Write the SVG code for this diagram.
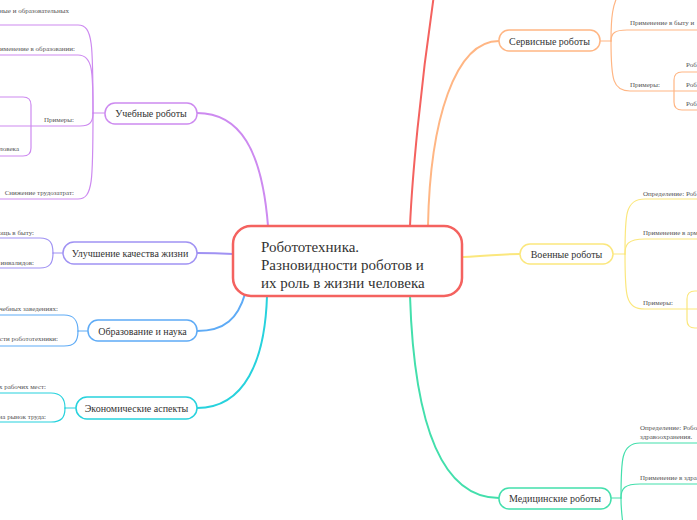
<svg xmlns="http://www.w3.org/2000/svg" width="697" height="520" viewBox="0 0 697 520">
<style>
.c{fill:none;stroke-linecap:round;stroke-linejoin:round}
.m{stroke-width:2}
.s{stroke-width:1.2}
.n{fill:#fff;stroke-width:1.5}
.nt{font-size:10px;fill:#333;text-anchor:middle}
.t{font-size:7px;fill:#555}
.e{text-anchor:end}
.pu{stroke:#cd8af0}.vi{stroke:#a092f3}.bl{stroke:#5eabf6}.cy{stroke:#27d2dd}
.rd{stroke:#f4625f}.or{stroke:#ffb684}.ye{stroke:#fbe77d}.gr{stroke:#43dfac}
</style>
<rect width="697" height="520" fill="#fff"/>
<g id="connectors">
<path class="c m pu" d="M268,226 C262,150 240,113 197,113"/>
<path class="c m vi" d="M233,254 C215,253 210,253 197,253"/>
<path class="c m bl" d="M245,294 C238,318 225,331 197,331"/>
<path class="c m cy" d="M267,296 C265,360 245,408 197,408"/>
<path class="c m rd" d="M410,226 C412,180 420,90 434,-5"/>
<path class="c m or" d="M428,226 C430,120 455,41 499,41"/>
<path class="c m ye" d="M463,257 C490,256 500,254 520,254"/>
<path class="c m gr" d="M410,296 C414,420 440,498 499,498"/>
<path class="c s pu" d="M105,113 L93,113"/>
<path class="c s pu" d="M93,113 C93,45 93,25 78,25 L-2,25"/>
<path class="c s pu" d="M93,113 C93,72 93,55 78,55 L-2,55"/>
<path class="c s pu" d="M93,113 C93,122 90,126 80,126 L-2,126"/>
<path class="c s pu" d="M93,113 C93,180 93,199 78,199 L-2,199"/>
<path class="c s pu" d="M-2,97 L23,97 Q31,97 31,105 L31,148 Q31,156 23,156 L-2,156"/>
<path class="c s vi" d="M63,253 L53,253"/>
<path class="c s vi" d="M53,253 C53,243 50,238 40,238 L-2,238"/>
<path class="c s vi" d="M53,253 C53,263 50,268 40,268 L-2,268"/>
<path class="c s bl" d="M88,331 L78,331"/>
<path class="c s bl" d="M78,331 C78,320 74,315 64,315 L-2,315"/>
<path class="c s bl" d="M78,331 C78,342 74,346 64,346 L-2,346"/>
<path class="c s cy" d="M76,408 L65,408"/>
<path class="c s cy" d="M65,408 C65,398 61,393 51,393 L-2,393"/>
<path class="c s cy" d="M65,408 C65,418 61,422 51,422 L-2,422"/>
<path class="c s or" d="M600,41 L611,41"/>
<path class="c s or" d="M611,41 C611,15 613,5 618,-5"/>
<path class="c s or" d="M611,41 C611,33 615,30 627,30 L699,30"/>
<path class="c s or" d="M611,41 C611,80 613,91 630,91 L699,91"/>
<path class="c s or" d="M699,72 L682,72 Q674,72 674,80 L674,102 Q674,110 682,110 L699,110"/>
<path class="c s ye" d="M613,254 L625,254"/>
<path class="c s ye" d="M625,254 C625,215 625,199 645,199 L699,199"/>
<path class="c s ye" d="M625,254 C625,245 627,239 645,239 L699,239"/>
<path class="c s ye" d="M625,254 C625,295 625,309 645,309 L699,309"/>
<path class="c s ye" d="M699,291 L695,291 Q687,291 687,299 L687,320 Q687,328 695,328 L699,328"/>
<path class="c s gr" d="M611,498 L621,498"/>
<path class="c s gr" d="M621,498 C621,460 621,443 640,443 L699,443"/>
<path class="c s gr" d="M621,498 C621,488 625,484 640,484 L699,484"/>
<path class="c s gr" d="M621,498 C621,510 622,515 623,525"/>
</g>
<g font-family="Liberation Serif, DejaVu Serif, serif">
<g id="center">
<rect x="233" y="226" width="229" height="70" rx="18" fill="#fff" stroke="#f4625f" stroke-width="2.5"/>
<text font-size="15" fill="#333"><tspan x="261" y="252">Робототехника.</tspan><tspan x="261" y="270">Разновидности роботов и</tspan><tspan x="261" y="288">их роль в жизни человека</tspan></text>
</g>
<g id="n-ucheb"><rect class="n pu" x="105" y="103" width="92" height="21" rx="10"/><text class="nt" x="151" y="117">Учебные роботы</text></g>
<g id="n-uluch"><rect class="n vi" x="63" y="242" width="134" height="22" rx="11"/><text class="nt" x="130" y="257">Улучшение качества жизни</text></g>
<g id="n-obraz"><rect class="n bl" x="88" y="320" width="109" height="21" rx="10"/><text class="nt" x="142.5" y="334.5">Образование и наука</text></g>
<g id="n-ekon"><rect class="n cy" x="76" y="397" width="121" height="22" rx="11"/><text class="nt" x="136.5" y="412">Экономические аспекты</text></g>
<g id="n-serv"><rect class="n or" x="499" y="30" width="101" height="21" rx="10"/><text class="nt" x="549.5" y="44.5">Сервисные роботы</text></g>
<g id="n-voen"><rect class="n ye" x="520" y="244" width="93" height="20" rx="10"/><text class="nt" x="566.5" y="258">Военные роботы</text></g>
<g id="n-med"><rect class="n gr" x="499" y="488" width="112" height="21" rx="10"/><text class="nt" x="555" y="502">Медицинские роботы</text></g>
<g id="labels-left">
<text class="t e" x="69" y="13">ные и образовательных</text>
<text class="t e" x="75" y="51">именение в образовании:</text>
<text class="t e" x="74" y="122">Примеры:</text>
<text class="t e" x="19" y="151">ловека</text>
<text class="t e" x="74" y="195">Снижение трудозатрат:</text>
<text class="t e" x="34" y="235">ощь в быту:</text>
<text class="t e" x="34" y="265">инвалидов:</text>
<text class="t e" x="58" y="311">чебных заведениях:</text>
<text class="t e" x="58" y="341">сти робототехники:</text>
<text class="t e" x="46" y="389">х рабочих мест:</text>
<text class="t e" x="46" y="419">на рынок труда:</text>
</g>
<g id="labels-right">
<text class="t" x="630" y="25">Применение в быту и</text>
<text class="t" x="630" y="87">Примеры:</text>
<text class="t" x="686" y="67">Роб</text>
<text class="t" x="686" y="87">Роб</text>
<text class="t" x="686" y="106">Роб</text>
<text class="t" x="643" y="196">Определение: Роб</text>
<text class="t" x="643" y="235">Применение в арм</text>
<text class="t" x="643" y="305">Примеры:</text>
<text class="t" x="640" y="430">Определение: Робо</text>
<text class="t" x="640" y="439">здравоохранения.</text>
<text class="t" x="640" y="480">Применение в здра</text>
</g>
</g>
</svg>
